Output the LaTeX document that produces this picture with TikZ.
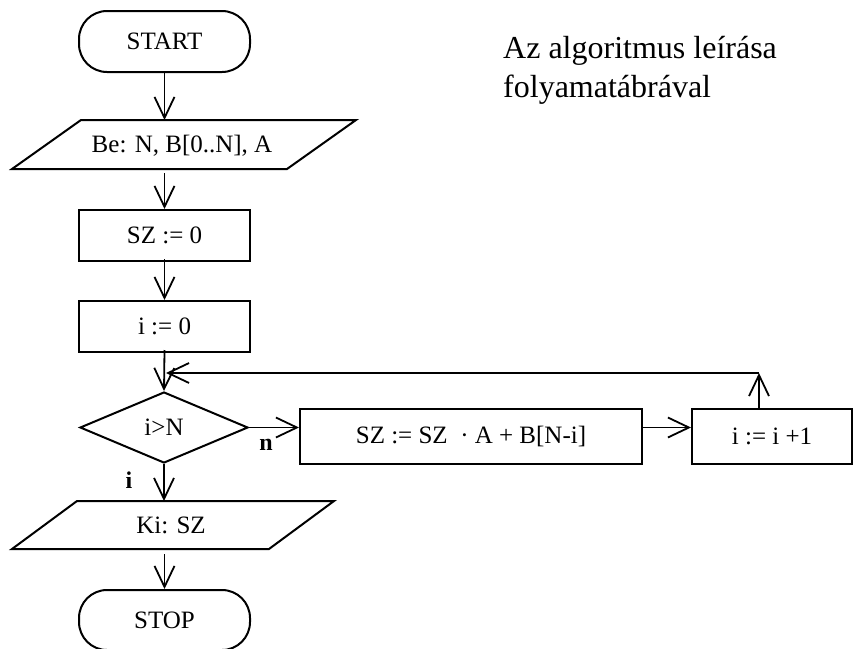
\documentclass[tikz,border=0pt]{standalone}
\usepackage{fontspec}
\setmainfont{Liberation Serif}
\usetikzlibrary{arrows.meta,shapes.geometric}
\tikzset{
  box/.style={draw, line width=2pt, rectangle, inner sep=0pt, font=\fontsize{25}{29}\selectfont},
  term/.style={box, rounded corners=28pt},
  lbl/.style={inner sep=0pt, font=\fontsize{25}{29}\selectfont},
  blbl/.style={inner sep=0pt, font=\fontsize{24}{28}\selectfont\bfseries},
  para/.style={draw, line width=2pt, line join=miter},
  conn/.style={line width=1.8pt, -{Straight Barb[length=21pt,width=20pt,line width=1.8pt]}},
  titl/.style={inner sep=0pt, anchor=base west, font=\fontsize{32}{39}\selectfont}
}
\begin{document}
\begin{tikzpicture}[x=1pt,y=-1pt]
\useasboundingbox (0,0) rectangle (853,648);
% nodes
\node[term, minimum width=171pt, minimum height=61pt] (start) at (164.5,41.5) {START};
\draw[para] (81,120) -- (356,120) -- (287,169) -- (12,169) -- cycle;
\node[lbl, minimum height=49pt] (in) at (182,146) {Be: N, B[0..N], A};
\node[box, minimum width=171pt, minimum height=51pt] (sz0) at (164.5,235.5) {SZ := 0};
\node[box, minimum width=171pt, minimum height=51pt] (i0) at (164.5,326.5) {i := 0};
\node[draw, line width=2pt, diamond, inner sep=0pt, minimum width=168pt, minimum height=71pt, aspect=2.37, font=\fontsize{25}{29}\selectfont] (dia) at (164,427.5) {i>N};
\node[box, minimum width=342pt, minimum height=55pt] (upd) at (471,436.5) {SZ := SZ\ \ ·\ A + B[N-i]};
\node[box, minimum width=160pt, minimum height=55pt] (inc) at (772,436.5) {i := i +1};
\draw[para] (77,501) -- (334,501) -- (269,549) -- (12,549) -- cycle;
\node[lbl, minimum height=48pt] (out) at (171,525) {Ki: SZ};
\node[term, minimum width=171pt, minimum height=60pt] (stop) at (164.5,620) {STOP};
\coordinate (lpR) at (759,373);
\coordinate (lpL) at (166,373);
% labels
\node[blbl] (nlab) at (266,445) {n};
\node[blbl] (ilab) at (129,480) {i};
% title
\node[titl] (t1) at (503,58) {Az algoritmus leírása};
\node[titl] (t2) at (503,97) {folyamatábrával};
% connectors
\draw[conn] (start.south) -- (start.south |- 0,120);
\draw[conn] (sz0.north |- 0,173) -- (sz0.north);
\draw[conn] ([yshift=3pt]sz0.south) -- (i0.north);
\draw[conn] ([yshift=3pt]i0.south) -- (dia.north);
\draw[conn] (dia.east) -- (dia.east -| upd.west);
\draw[conn] (dia.east -| upd.east) -- (dia.east -| inc.west);
\draw[conn] (inc.north -| lpR) -- (lpR);
\draw[conn] (lpR) -- (lpL);
\draw[conn] (dia.south) -- (dia.south |- 0,501);
\draw[conn] (stop.north |- 0,554) -- (stop.north);
\end{tikzpicture}
\end{document}
